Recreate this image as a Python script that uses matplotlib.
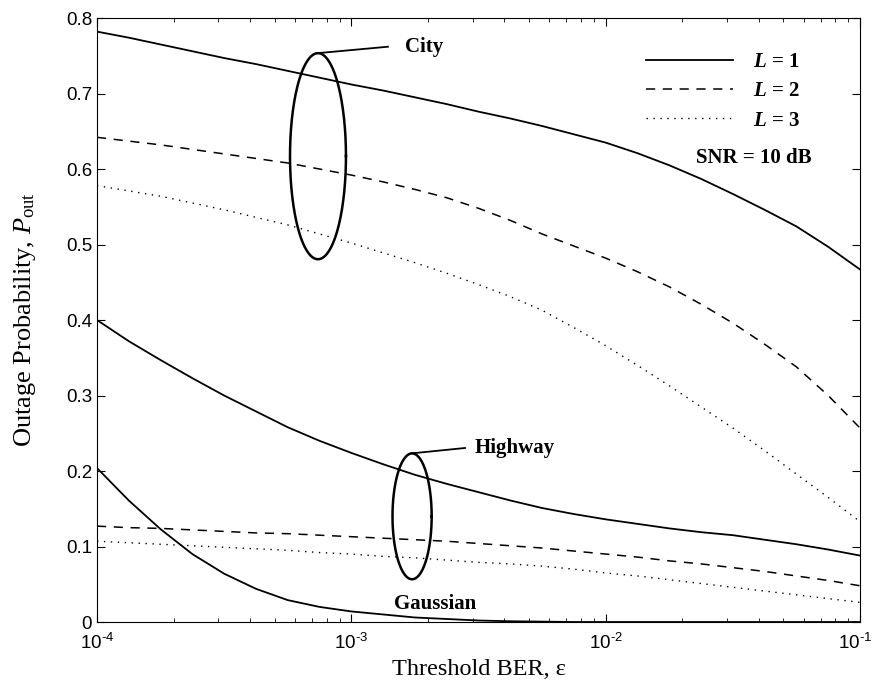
import numpy as np
import matplotlib
matplotlib.use("Agg")
from matplotlib import pyplot as plt
from matplotlib import transforms

# threshold BER grid, as log10 exponents
ber_exp = [-4.0, -3.875, -3.75, -3.625, -3.5, -3.375, -3.25, -3.125, -3.0,
           -2.875, -2.75, -2.625, -2.5, -2.375, -2.25, -2.125, -2.0,
           -1.875, -1.75, -1.625, -1.5, -1.375, -1.25, -1.125, -1.0]

city_l1 = [0.782, 0.774, 0.765, 0.756, 0.747, 0.739, 0.730, 0.721, 0.712, 0.704, 0.695, 0.686, 0.676,
           0.667, 0.657, 0.646, 0.635, 0.621, 0.605, 0.587, 0.567, 0.546, 0.524, 0.497, 0.467]
city_l2 = [0.642, 0.637, 0.632, 0.626, 0.620, 0.614, 0.608, 0.600, 0.592, 0.583, 0.573, 0.562, 0.548,
           0.532, 0.514, 0.498, 0.482, 0.464, 0.444, 0.421, 0.396, 0.368, 0.338, 0.300, 0.257]
city_l3 = [0.578, 0.571, 0.564, 0.555, 0.546, 0.536, 0.526, 0.514, 0.502, 0.489, 0.476, 0.462, 0.447,
           0.431, 0.413, 0.390, 0.366, 0.340, 0.313, 0.285, 0.257, 0.227, 0.196, 0.165, 0.133]

highway_l1 = [0.400, 0.372, 0.347, 0.323, 0.300, 0.279, 0.258, 0.240, 0.224, 0.209, 0.195, 0.183, 0.172,
              0.161, 0.151, 0.143, 0.136, 0.130, 0.124, 0.119, 0.115, 0.109, 0.103, 0.096, 0.088]
highway_l2 = [0.127, 0.125, 0.124, 0.122, 0.120, 0.118, 0.117, 0.115, 0.113, 0.111, 0.109, 0.107, 0.104,
              0.101, 0.098, 0.094, 0.090, 0.086, 0.081, 0.077, 0.072, 0.067, 0.061, 0.055, 0.048]
highway_l3 = [0.107, 0.105, 0.103, 0.101, 0.099, 0.097, 0.095, 0.092, 0.090, 0.087, 0.085, 0.082, 0.079,
              0.077, 0.074, 0.070, 0.065, 0.061, 0.056, 0.051, 0.046, 0.041, 0.036, 0.031, 0.026]

gauss_l1 = [0.204, 0.161, 0.123, 0.090, 0.064, 0.044, 0.029, 0.020, 0.014, 0.010, 0.006, 0.004, 0.002,
            0.001, 0.0005, 0.0, 0.0, 0.0, 0.0, 0.0, 0.0, 0.0, 0.0, 0.0, 0.0]

legend_labels = [r"$\mathbfit{L}$ = 1", r"$\mathbfit{L}$ = 2", r"$\mathbfit{L}$ = 3"]
x_ticks = [1e-4, 1e-3, 1e-2, 1e-1]
x_ticklabels = [r"$\mathsf{10^{‐4}}$", r"$\mathsf{10^{‐3}}$",
                r"$\mathsf{10^{‐2}}$", r"$\mathsf{10^{‐1}}$"]
y_ticks = [0, 0.1, 0.2, 0.3, 0.4, 0.5, 0.6, 0.7, 0.8]
y_ticklabels = ['0', '0.1', '0.2', '0.3', '0.4', '0.5', '0.6', '0.7', '0.8']

plt.rcParams['font.family'] = ['Liberation Serif', 'DejaVu Serif']
plt.rcParams['mathtext.fontset'] = 'custom'
plt.rcParams['mathtext.rm'] = 'Liberation Serif'
plt.rcParams['mathtext.it'] = 'Liberation Serif:italic'
plt.rcParams['mathtext.bf'] = 'Liberation Serif:bold'
plt.rcParams['mathtext.bfit'] = 'Liberation Serif:italic:bold'
plt.rcParams['mathtext.sf'] = 'Liberation Sans'

ber = 10 ** np.array(ber_exp)

fig = plt.figure(figsize=(8.72, 6.83), dpi=100)
ax = fig.add_axes([0.1112, 0.0893, 0.875, 0.8843])

solid = dict(color='black', lw=1.3, linestyle='-')
dashed = dict(color='black', lw=1.1, linestyle=(0, (6, 5)))
dotted = dict(color='black', lw=1.0, linestyle=(0, (1, 4)))

h1, = ax.plot(ber, city_l1, **solid)
h2, = ax.plot(ber, city_l2, **dashed)
h3, = ax.plot(ber, city_l3, **dotted)
ax.plot(ber, highway_l1, **solid)
ax.plot(ber, highway_l2, **dashed)
ax.plot(ber, highway_l3, **dotted)
ax.plot(ber, gauss_l1, **solid)

# ellipses grouping the curves (drawn in log-x space)
t = np.linspace(0, 2 * np.pi, 200)
for cx, w, cy, h in [(-3.131, 0.110, 0.617, 0.1365), (-2.761, 0.077, 0.140, 0.0834)]:
    ax.plot(10 ** (cx + w * np.cos(t)), cy + h * np.sin(t), color='black', lw=1.8)

ax.plot([10 ** -3.131, 10 ** -2.856], [0.7535, 0.762], color='black', lw=1.3)
ax.text(10 ** -2.79, 0.762, "City", fontsize=15, fontweight='bold', va='center')
ax.plot([10 ** -2.761, 10 ** -2.553], [0.2234, 0.2305], color='black', lw=1.3)
ax.text(10 ** -2.516, 0.2305, "Highway", fontsize=15, fontweight='bold', va='center')
ax.text(10 ** -2.671, 0.024, "Gaussian", fontsize=15, fontweight='bold', ha='center', va='center')
ax.text(0.861, 0.768, "SNR = 10 dB", transform=ax.transAxes, fontsize=15,
        fontweight='bold', ha='center', va='center')

leg = ax.legend([h1, h2, h3], legend_labels, loc='upper left', frameon=False,
                prop={'size': 15, 'weight': 'bold'}, handlelength=4.2,
                handletextpad=0.95, labelspacing=0.45, borderpad=0, borderaxespad=0,
                bbox_to_anchor=(0.7195, 0.944))

ax.set_xscale('log')
ax.set_xlim(1e-4, 1e-1)
ax.set_ylim(0, 0.8)
ax.set_xticks(x_ticks)
ax.set_xticklabels(x_ticklabels)
ax.set_yticks(y_ticks)
ax.set_yticklabels(y_ticklabels)
ax.tick_params(which='both', direction='in', top=True, right=True)
ax.tick_params(which='major', length=6, labelsize=13.5)
ax.tick_params(which='minor', length=3)
ax.tick_params(axis='x', pad=8)
for lab in ax.get_yticklabels():
    lab.set_fontfamily('Liberation Sans')

# nudge the last x label inward so it stays on the canvas
last = ax.get_xticklabels()[-1]
last.set_transform(last.get_transform() + transforms.ScaledTranslation(-5 / 100, 0, fig.dpi_scale_trans))

ax.set_xlabel("Threshold BER, ε", fontsize=17.5, labelpad=4)
ax.set_ylabel(r"Outage Probability, $P_{\rm out}$", fontsize=19, labelpad=20)

fig.savefig("out.png", dpi=100)
